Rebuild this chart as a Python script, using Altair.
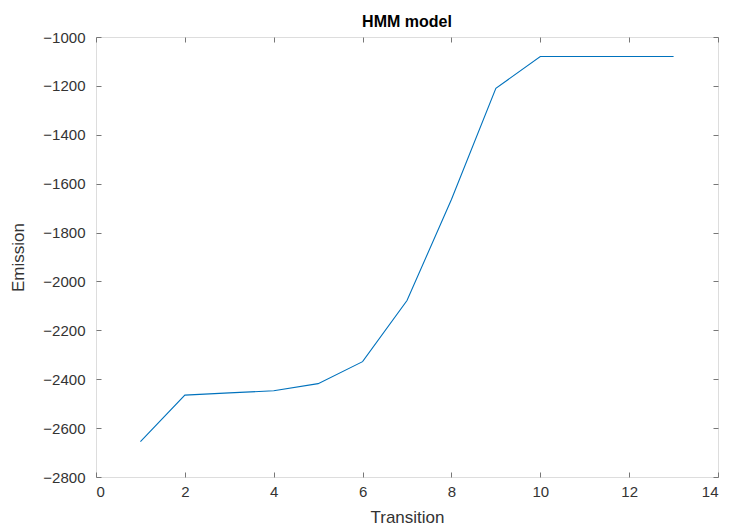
import altair as alt
import pandas as pd

transition = [1, 2, 3, 4, 5, 6, 7, 8, 9, 10, 11, 12, 13]
emission = [-2655, -2465, -2456, -2447, -2418, -2328, -2078, -1665, -1210, -1080, -1080, -1080, -1080]

df = pd.DataFrame({"Transition": transition, "Emission": emission})

FONT = "Liberation Sans"
AX = "#333333"
xticks = [0, 2, 4, 6, 8, 10, 12, 14]
yticks = list(range(-2800, -999, 200))

xs = alt.Scale(domain=[0, 14], nice=False, zero=False)
ys = alt.Scale(domain=[-2800, -1000], nice=False, zero=False)

common_axis = dict(grid=False, domain=False, tickColor="#777", tickSize=5, offset=-5,
                   format="d",
                   labelFont=FONT, labelFontSize=15, labelColor=AX,
                   titleFont=FONT, titleFontSize=17, titleFontWeight="normal", titleColor=AX)

main = alt.Chart(df).mark_line(color="#0072BD", strokeWidth=1.1).encode(
    x=alt.X("Transition:Q", scale=xs,
            axis=alt.Axis(values=xticks, labelPadding=7, titlePadding=10, **common_axis)),
    y=alt.Y("Emission:Q", scale=ys,
            axis=alt.Axis(values=yticks, labelPadding=11, titlePadding=15, **common_axis)),
)

nolab = dict(grid=False, domain=False, tickColor="#777", tickSize=5, offset=-5,
             labels=False, title=None)
mirror = alt.Chart(df).mark_line(opacity=0).encode(
    x=alt.X("Transition:Q", scale=xs, axis=alt.Axis(orient="top", values=xticks, **nolab)),
    y=alt.Y("Emission:Q", scale=ys, axis=alt.Axis(orient="right", values=yticks, **nolab)),
)

chart = alt.layer(main, mirror).resolve_axis(x="independent", y="independent").properties(
    width=622, height=440,
    title=alt.TitleParams("HMM model", font=FONT, fontSize=16, fontWeight="bold", color="#000",
                          anchor="middle", offset=0),
    autosize=alt.AutoSizeParams(type="none"),
    padding={"left": 88, "top": 29, "right": 4, "bottom": 52},
).configure_view(stroke="#777", strokeWidth=1.2).configure(background="white")

chart.save("out.html", embed_options={"renderer": "svg", "actions": False})
